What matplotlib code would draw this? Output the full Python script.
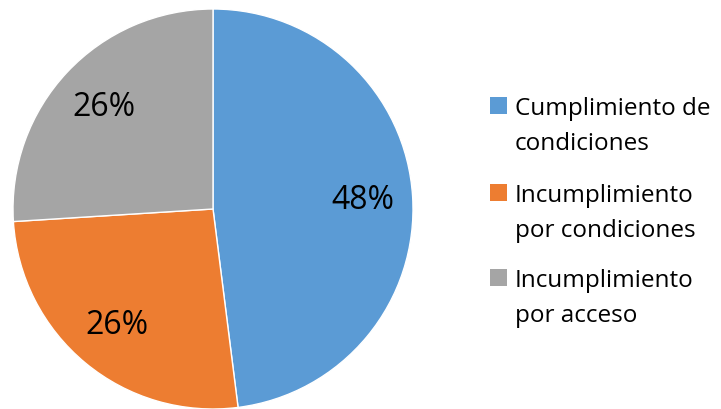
import matplotlib; matplotlib.use('Agg')
import matplotlib.pyplot as plt
from matplotlib.patches import Rectangle

plt.rcParams['font.family'] = ['Open Sans', 'DejaVu Sans']

categories = [['Cumplimiento de', 'condiciones'],
              ['Incumplimiento', 'por condiciones'],
              ['Incumplimiento', 'por acceso']]
shares = [48, 26, 26]
colors = ['#5B9BD5', '#ED7D31', '#A5A5A5']

W, H = 721, 410
fig = plt.figure(figsize=(W / 100, H / 100), dpi=100)
fig.patch.set_facecolor('white')
ax = fig.add_axes([13 / W, 0.0, 400 / W, 400 / H])

wedges, _, autotexts = ax.pie(
    shares, colors=colors, startangle=90, counterclock=False,
    autopct='%d%%', pctdistance=0.75,
    wedgeprops=dict(edgecolor='white', linewidth=1.0),
    textprops=dict(fontsize=23, color='black'))
ax.set_xlim(-1, 1)
ax.set_ylim(-1, 1)
ax.set_aspect('equal')

# legend drawn by hand: square next to the first line of each entry
first_baseline = [115, 202, 287]
line_gap = 35
for wedge, lines, yb in zip(wedges, categories, first_baseline):
    fig.patches.append(Rectangle((490 / W, 1 - yb / H), 17 / W, 17 / H,
                                 transform=fig.transFigure,
                                 facecolor=wedge.get_facecolor(),
                                 edgecolor='none'))
    for i, line in enumerate(lines):
        fig.text(515 / W, 1 - (yb + i * line_gap) / H, line,
                 fontsize=17.5, ha='left', va='baseline', color='black')

fig.savefig('out.png', dpi=100)
